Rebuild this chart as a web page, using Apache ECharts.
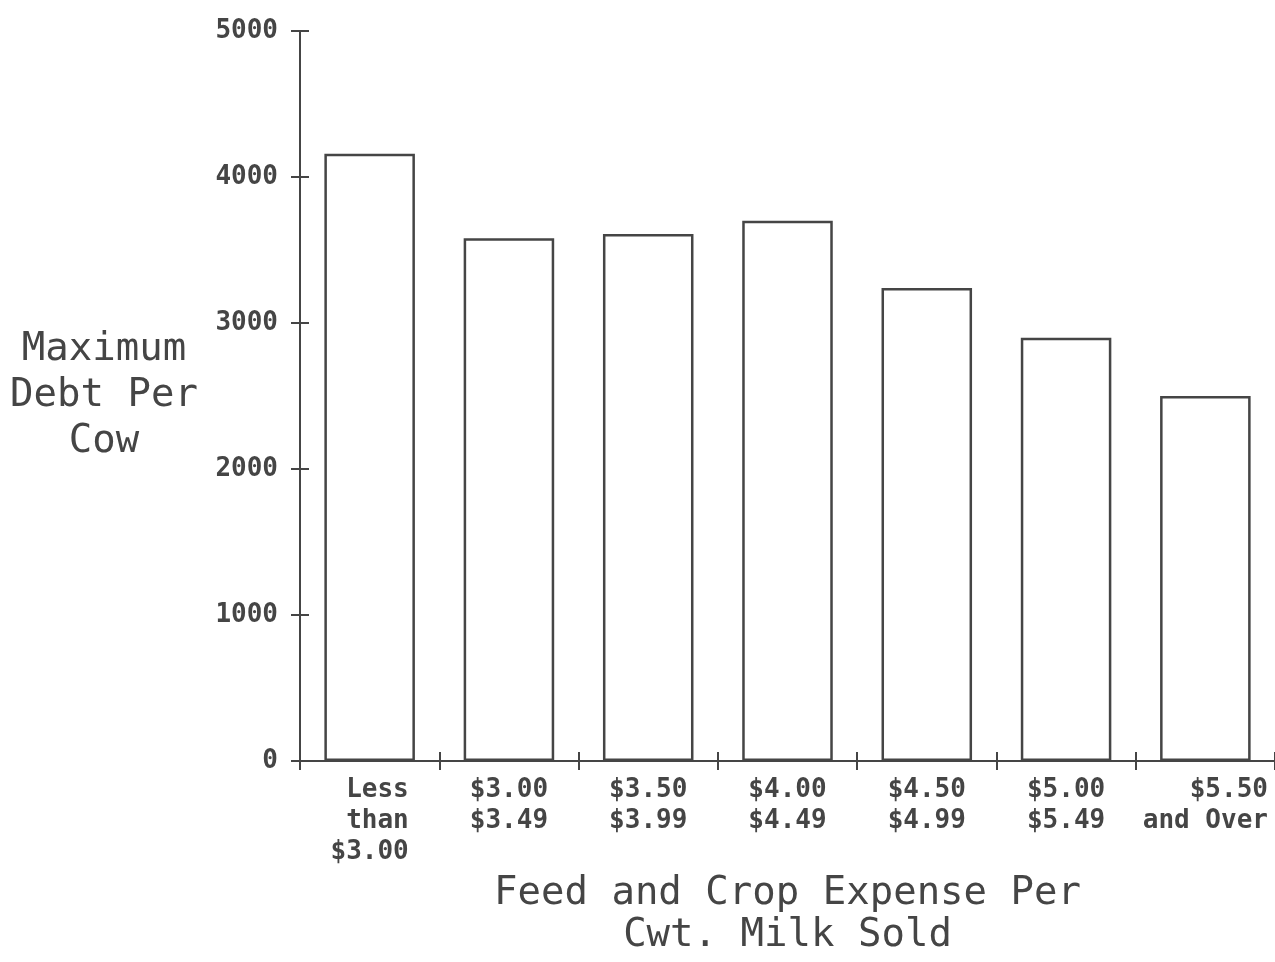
<!DOCTYPE html>
<html>
<head>
<meta charset="utf-8">
<title>Maximum Debt Per Cow</title>
<script src="https://cdn.jsdelivr.net/npm/echarts@6/dist/echarts.min.js"></script>
<style>
  html, body { margin: 0; padding: 0; background: #fff; }
  #chart { width: 1275px; height: 962px; }
</style>
</head>
<body>
<div id="chart"></div>
<script>
// categories (monospace labels, padded so lines line up like the plot)
const categories = [
  ' Less\n than\n$3.00',
  '$3.00\n$3.49',
  '$3.50\n$3.99',
  '$4.00\n$4.49',
  '$4.50\n$4.99',
  '$5.00\n$5.49',
  '   $5.50\nand Over'
];
// maximum debt per cow
const debtValues = [4160, 3580, 3610, 3700, 3240, 2900, 2500];
const yTicks = { min: 0, max: 5000, step: 1000 };

const ink = '#454545';
const font = 'DejaVu Sans Mono';

const chart = echarts.init(document.getElementById('chart'));

const option = {
  backgroundColor: '#fff',
  animation: false,
  grid: {
    left: 300,
    right: 0,
    top: 31,
    bottom: 197
  },
  xAxis: [{
    type: 'category',
    data: categories,
    boundaryGap: true,
    axisLine: { lineStyle: { color: ink, width: 2 } },
    axisTick: { show: true, alignWithLabel: false, length: 9, lineStyle: { color: ink, width: 2 } },
    axisLabel: {
      interval: 0,
      margin: 14,
      color: ink,
      fontFamily: font,
      fontWeight: 'bold',
      fontSize: 26,
      lineHeight: 31
    },
    name: 'Feed and Crop Expense Per\nCwt. Milk Sold',
    nameLocation: 'middle',
    nameGap: 150,
    nameTextStyle: {
      color: ink,
      fontFamily: font,
      fontSize: 39,
      lineHeight: 42,
      align: 'center',
      verticalAlign: 'middle'
    },
    splitLine: { show: false }
  }, {
    // ghost axis: inner half of the crossing ticks
    type: 'category',
    data: categories,
    position: 'bottom',
    boundaryGap: true,
    axisLine: { show: false },
    axisTick: { show: true, inside: true, length: 9, lineStyle: { color: ink, width: 2 } },
    axisLabel: { show: false }
  }],
  yAxis: [{
    type: 'value',
    min: yTicks.min,
    max: yTicks.max,
    interval: yTicks.step,
    axisLine: { show: true, lineStyle: { color: ink, width: 2 } },
    axisTick: { show: true, length: 9, lineStyle: { color: ink, width: 2 } },
    axisLabel: {
      margin: 22,
      color: ink,
      fontFamily: font,
      fontWeight: 'bold',
      fontSize: 26,
      formatter: (v) => String(v)
    },
    splitLine: { show: false },
    name: 'Maximum\nDebt Per\nCow',
    nameLocation: 'middle',
    nameRotate: 0,
    nameGap: 196,
    nameTextStyle: {
      color: ink,
      fontFamily: font,
      fontSize: 39,
      lineHeight: 46,
      align: 'center',
      verticalAlign: 'middle'
    }
  }, {
    type: 'value',
    position: 'left',
    min: yTicks.min,
    max: yTicks.max,
    interval: yTicks.step,
    axisLine: { show: false },
    axisTick: { show: true, inside: true, length: 9, lineStyle: { color: ink, width: 2 } },
    axisLabel: { show: false },
    splitLine: { show: false }
  }],
  series: [{
    type: 'bar',
    xAxisIndex: 0,
    yAxisIndex: 0,
    data: debtValues,
    barCategoryGap: '35%',
    itemStyle: {
      color: '#fff',
      borderColor: ink,
      borderWidth: 2.5
    }
  }]
};

chart.setOption(option);
</script>
</body>
</html>
